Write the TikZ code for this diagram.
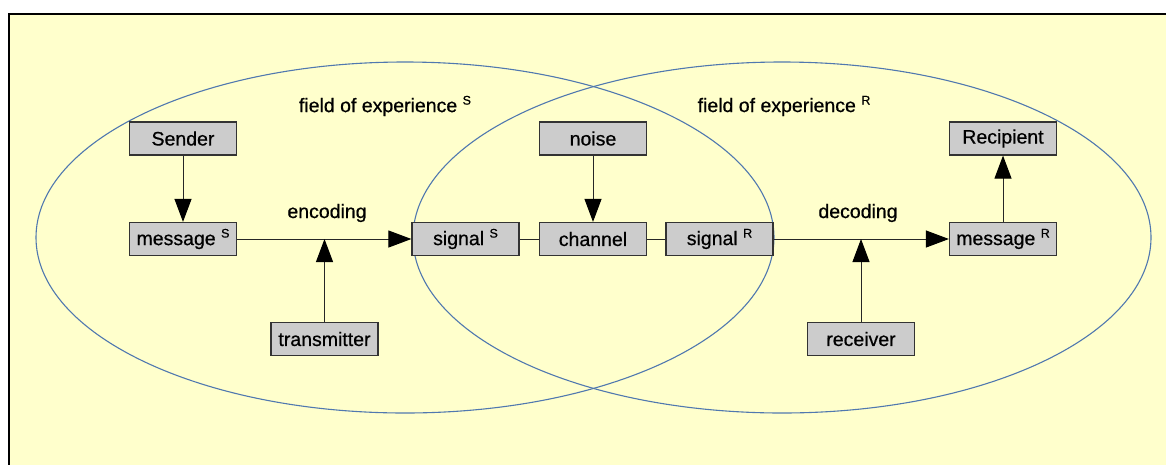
\documentclass[tikz,border=0pt]{standalone}
\usepackage{fontspec}
\setmainfont{Liberation Sans}[FakeBold=0.6]
\usetikzlibrary{arrows.meta,positioning}
\definecolor{paper}{RGB}{255,255,204}
\definecolor{boxgray}{RGB}{204,204,204}
\definecolor{fieldblue}{RGB}{80,120,175}

% small raised letter after a word
\newcommand{\suplabel}[1]{\;{\fontsize{12.5}{12.5}\selectfont\raisebox{7.5pt}{#1}}}

\tikzset{
  box/.style={draw=black!80, fill=boxgray, line width=1.2pt,
    minimum width=107pt, minimum height=33pt, inner sep=0pt},
  link/.style={black!85, line width=1pt},
  flow/.style={link, -{Triangle[length=23pt,width=17pt,color=black]}},
  field/.style={fieldblue, line width=1.1pt}
}

\begin{document}
\begin{tikzpicture}[x=1pt, y=-1pt, font=\fontsize{19.5}{22}\selectfont]

  % --- Page and background ---
  \useasboundingbox (0,0) rectangle (1166,464);
  \clip (0,0) rectangle (1166,464);
  \fill[white] (0,0) rectangle (1166,464);
  \draw[fill=paper, line width=2pt] (9,14) rectangle (1180,480);

  % --- Fields of experience ---
  \draw[field] (405,237.5) ellipse (369 and 175.5);
  \draw[field] (782,237.5) ellipse (369 and 175.5);
  \node (fieldS) at (385,106) {field of experience\suplabel{S}};
  \node (fieldR) at (784,106) {field of experience\suplabel{R}};

  % --- Sender side ---
  \node[box] (sender) at (183,138.5) {Sender};
  \node[box] (msgS) at (183,239) {message\suplabel{S}};
  \node[box] (transmitter) at (324.5,339) {transmitter};

  % --- Channel ---
  \node[box] (sigS) at (465.5,239) {signal\suplabel{S}};
  \node[box] (channel) at (593,239) {channel};
  \node[box] (sigR) at (719.5,239) {signal\suplabel{R}};
  \node[box] (noise) at (593,138.5) {noise};

  % --- Recipient side ---
  \node[box] (msgR) at (1003,239) {message\suplabel{R}};
  \node[box] (recipient) at (1003,138.5) {Recipient};
  \node[box] (receiver) at (861,339) {receiver};

  % --- Connections ---
  \draw[flow] (sender) -- (msgS);
  \draw[flow] (msgS) -- (sigS);
  \draw[flow] (transmitter) -- (transmitter |- msgS);
  \node (encoding) at (327,213) {encoding};

  \draw[flow] (noise) -- (channel);
  \draw[link] (sigS) -- (channel);
  \draw[link] (channel) -- (sigR);

  \draw[flow] (sigR) -- (msgR);
  \draw[flow] (receiver) -- (receiver |- msgR);
  \node (decoding) at (858,213) {decoding};
  \draw[flow] (msgR) -- (recipient);

\end{tikzpicture}
\end{document}
